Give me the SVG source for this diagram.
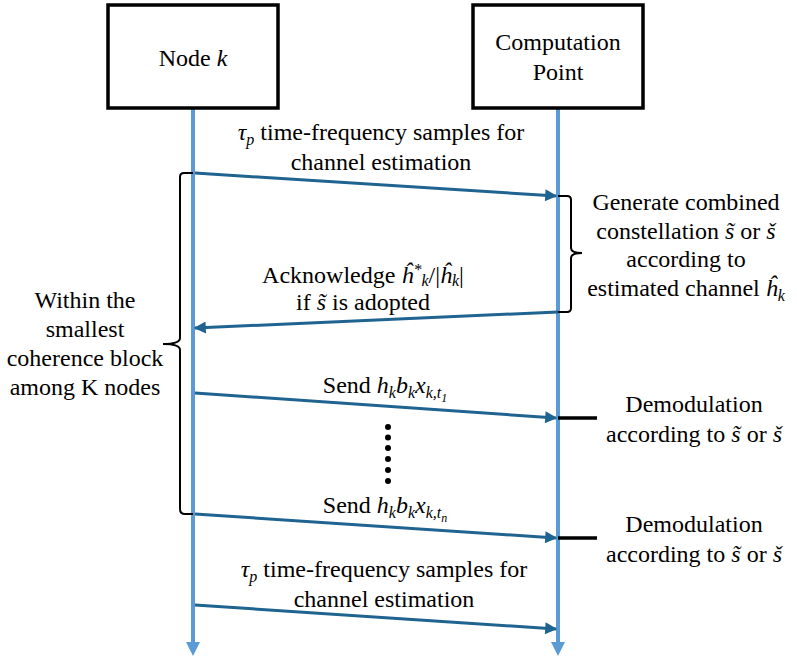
<svg xmlns="http://www.w3.org/2000/svg" width="797" height="658" viewBox="0 0 797 658">
<defs>
<style>
.c{text-anchor:middle}
.m{font-style:italic}
.s{font-size:16px;font-style:italic}
.ss{font-size:12px;font-style:italic}
.box{fill:#fff;stroke:#000;stroke-width:3.5}
.life{stroke:#5B9BD5;stroke-width:4;fill:none}
.lhead{fill:#5B9BD5}
.msg{stroke:#1F6391;stroke-width:3;fill:none;marker-end:url(#ah)}
.br{stroke:#000;stroke-width:2;fill:none}
.tick{stroke:#000;stroke-width:3.5}
</style>
<marker id="ah" viewBox="0 0 10 10" refX="9" refY="5" markerWidth="4.5" markerHeight="4" orient="auto" markerUnits="strokeWidth">
<path d="M0,0 L10,5 L0,10 z" fill="#1F6391"/>
</marker>
</defs>

<g id="lifelines">
<path class="life" d="M193,108 V645"/>
<polygon class="lhead" points="186,642 200,642 193,656"/>
<path class="life" d="M558,108 V645"/>
<polygon class="lhead" points="551,642 565,642 558,656"/>
</g>

<g id="node-k" font-family="'Liberation Serif', 'Times New Roman', Tinos, 'Nimbus Roman', 'Noto Serif', 'DejaVu Serif', serif" font-size="24">
<rect class="box" x="108" y="5" width="170" height="103"/>
<text class="c" x="193" y="66">Node <tspan class="m">k</tspan></text>
</g>

<g id="computation-point" font-family="'Liberation Serif', 'Times New Roman', Tinos, 'Nimbus Roman', 'Noto Serif', 'DejaVu Serif', serif" font-size="24">
<rect class="box" x="473" y="5" width="170" height="103"/>
<text class="c" x="558" y="50">Computation</text>
<text class="c" x="558" y="80">Point</text>
</g>

<g id="connectors">
<path class="msg" d="M195,173 L556,196"/>
<path class="msg" d="M558,312 L195,328"/>
<path class="msg" d="M195,393 L556,418"/>
<path class="msg" d="M195,514 L556,538"/>
<path class="msg" d="M195,605 L556,629"/>
</g>

<g id="braces">
<path class="br" d="M193,173 H184 Q180,173 180,177 V338 Q180,344 163,344 Q180,344 180,350 V509 Q180,514 185,514 H193"/>
<path class="br" d="M558,196 H567 Q571,196 571,200 V248 Q571,253 582,253 Q571,253 571,258 V308 Q571,312 567,312 H558"/>
<path class="tick" d="M558,418 H597"/>
<path class="tick" d="M558,538 H597"/>
</g>

<g id="dots" fill="#000">
<circle cx="388" cy="427" r="3"/>
<circle cx="388" cy="437.5" r="3"/>
<circle cx="388" cy="448" r="3"/>
<circle cx="388" cy="459" r="3"/>
<circle cx="388" cy="470" r="3"/>
<circle cx="388" cy="481" r="3"/>
</g>

<g id="labels" font-family="'Liberation Serif', 'Times New Roman', Tinos, 'Nimbus Roman', 'Noto Serif', 'DejaVu Serif', serif" font-size="24">
<text class="c" x="381" y="140"><tspan class="m">τ</tspan><tspan class="s" dy="5">p</tspan><tspan dy="-5"> time-frequency samples for</tspan></text>
<text class="c" x="381" y="170">channel estimation</text>

<text class="c" x="363" y="283">Acknowledge <tspan class="m">ĥ</tspan><tspan class="s" dy="-8">*</tspan><tspan class="s" dy="11">k</tspan><tspan dy="-3">/|</tspan><tspan class="m">ĥ</tspan><tspan class="s" dy="3">k</tspan><tspan dy="-3">|</tspan></text>
<text class="c" x="363" y="310">if <tspan class="m">s̃</tspan> is adopted</text>

<text class="c" x="686" y="210">Generate combined</text>
<text class="c" x="686" y="239">constellation <tspan class="m">s̃</tspan> or <tspan class="m">š</tspan></text>
<text class="c" x="686" y="267">according to</text>
<text class="c" x="686" y="296">estimated channel <tspan class="m">ĥ</tspan><tspan class="s" dy="5">k</tspan></text>

<text class="c" x="85" y="308">Within the</text>
<text class="c" x="85" y="337">smallest</text>
<text class="c" x="85" y="366">coherence block</text>
<text class="c" x="85" y="395">among K nodes</text>

<text class="c" x="385" y="393">Send <tspan class="m">h</tspan><tspan class="s" dy="5">k</tspan><tspan class="m" dy="-5">b</tspan><tspan class="s" dy="5">k</tspan><tspan class="m" dy="-5">x</tspan><tspan class="s" dy="5">k,t</tspan><tspan class="ss" dy="4">1</tspan></text>
<text class="c" x="385" y="513">Send <tspan class="m">h</tspan><tspan class="s" dy="5">k</tspan><tspan class="m" dy="-5">b</tspan><tspan class="s" dy="5">k</tspan><tspan class="m" dy="-5">x</tspan><tspan class="s" dy="5">k,t</tspan><tspan class="ss" dy="4">n</tspan></text>

<text class="c" x="694" y="412">Demodulation</text>
<text class="c" x="694" y="442">according to <tspan class="m">s̃</tspan> or <tspan class="m">š</tspan></text>
<text class="c" x="694" y="532">Demodulation</text>
<text class="c" x="694" y="562">according to <tspan class="m">s̃</tspan> or <tspan class="m">š</tspan></text>

<text class="c" x="384" y="577"><tspan class="m">τ</tspan><tspan class="s" dy="5">p</tspan><tspan dy="-5"> time-frequency samples for</tspan></text>
<text class="c" x="384" y="607">channel estimation</text>
</g>
</svg>
